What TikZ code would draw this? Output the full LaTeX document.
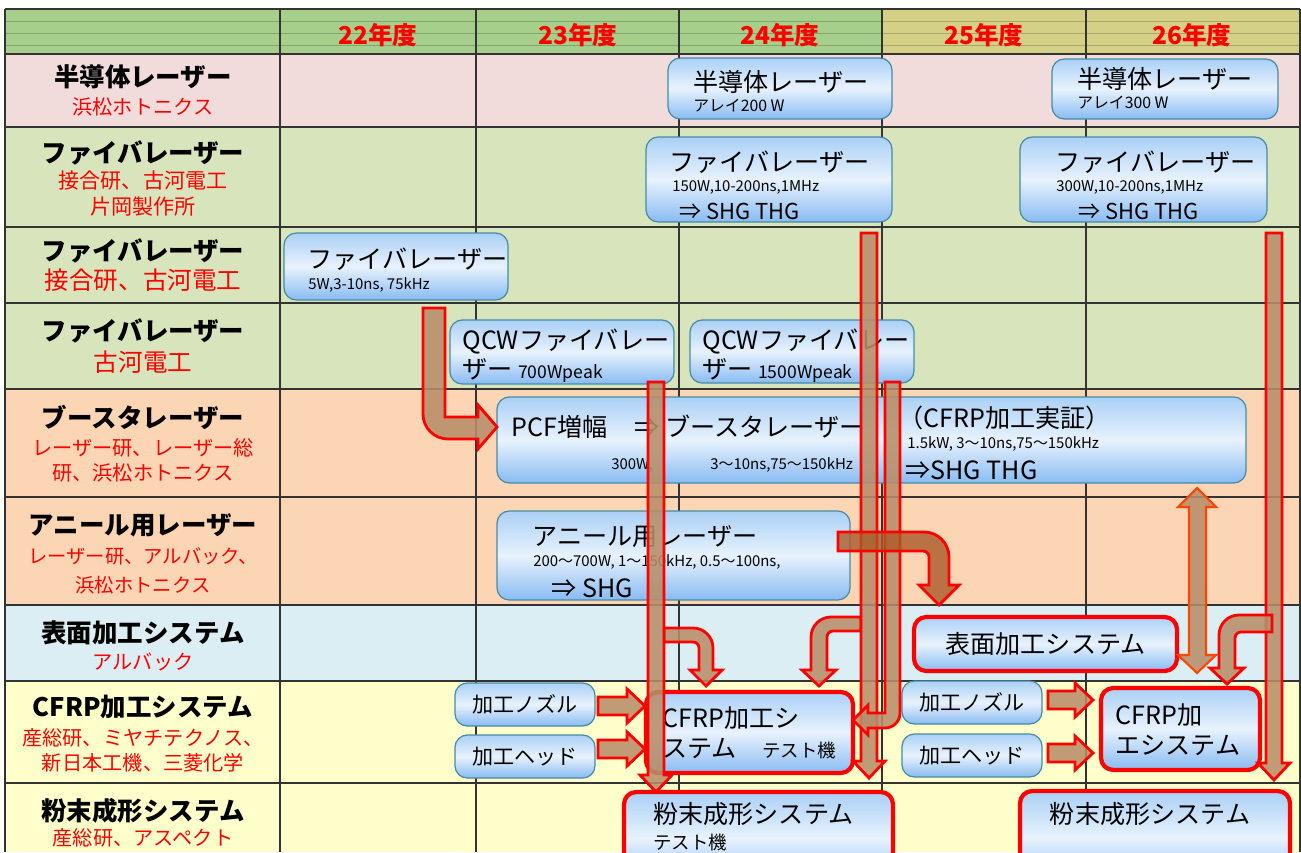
\documentclass[tikz,border=0pt]{standalone}
\usepackage{fontspec}
\setmainfont{Noto Sans CJK JP}
\usetikzlibrary{positioning}

\definecolor{hdgreen}{RGB}{166,207,140}
\definecolor{hdkhaki}{RGB}{212,209,135}
\definecolor{rowpink}{RGB}{242,220,219}
\definecolor{rowgreen}{RGB}{216,228,188}
\definecolor{rowpeach}{RGB}{252,213,180}
\definecolor{rowblue}{RGB}{218,238,243}
\definecolor{rowyellow}{RGB}{255,255,204}
\definecolor{boxtop}{RGB}{170,208,246}
\definecolor{boxmid}{RGB}{232,242,253}
\definecolor{boxbot}{RGB}{136,187,242}
\definecolor{boxline}{RGB}{70,140,165}
\definecolor{arrowfill}{RGB}{184,142,105}
\definecolor{arrowdark}{RGB}{170,90,40}
\definecolor{orangered}{RGB}{255,69,0}

% box from (x1,y1) to (x2,y2) in pixels
\newcommand{\roadbox}[6]{%
  \node[#1, minimum width={(#5-#3)*0.02cm}, minimum height={(#6-#4)*0.02cm}]
    (#2) at ({(#3+#5)/2},{(#4+#6)/2}) {};}
% block arrows: x, top, tip / start, y, tip
\newcommand{\downblk}[3]{%
  \filldraw[blk] ({#1-8},#2) -- ({#1+8},#2) -- ({#1+8},{#3-17}) -- ({#1+16},{#3-17})
    -- (#1,#3) -- ({#1-16},{#3-17}) -- ({#1-8},{#3-17}) -- cycle;}
\newcommand{\rightblk}[3]{%
  \filldraw[blk] (#1,{#2-9}) -- ({#3-18},{#2-9}) -- ({#3-18},{#2-17}) -- (#3,#2)
    -- ({#3-18},{#2+17}) -- ({#3-18},{#2+9}) -- (#1,{#2+9}) -- cycle;}

\begin{document}
\begin{tikzpicture}[
    x=0.02cm,
    y=-0.02cm,
    cell/.style={draw=black!80, line width=0.65pt},
    year/.style={text=red, inner sep=0pt, font=\fontsize{14}{16}\selectfont\bfseries},
    rowtitle/.style={inner sep=0pt, font=\fontsize{14.5}{17}\selectfont\bfseries},
    rowsub/.style={text=red, inner sep=0pt, align=center, font=\fontsize{11.5}{14.2}\selectfont},
    rowsubbig/.style={rowsub, font=\fontsize{14}{16}\selectfont},
    bluebox/.style={draw=boxline, line width=0.7pt, rounded corners=7pt, inner sep=0pt,
        top color=boxtop, bottom color=boxbot, middle color=boxmid},
    redbox/.style={bluebox, draw=red, line width=2.4pt},
    boxtitle/.style={anchor=west, inner sep=0pt, font=\fontsize{14.3}{17}\selectfont},
    boxsub/.style={anchor=west, inner sep=0pt, font=\fontsize{8.5}{10}\selectfont},
    boxmed/.style={anchor=west, inner sep=0pt, font=\fontsize{12.5}{14}\selectfont},
    boxlarge/.style={anchor=west, inner sep=0pt, font=\fontsize{14.3}{16}\selectfont},
    blk/.style={fill=arrowfill, fill opacity=0.88, draw=red, line width=1.6pt},
    blkdark/.style={blk, fill=arrowdark, fill opacity=0.8},
    blkboth/.style={blk, draw=orangered, line width=1.2pt}
  ]
  \useasboundingbox (0,0) rectangle (1301,852);
  \clip (0,0) rectangle (1301,852);

  % table background
  \fill[hdgreen] (5,9) rectangle (882,54);
  \fill[hdkhaki] (882,9) rectangle (1300,54);
  \foreach \y in {21,33,45} {
    \draw[hdgreen!60!black, line width=0.3pt, opacity=0.5] (5,\y) -- (882,\y);
    \draw[hdkhaki!60!black, line width=0.3pt, opacity=0.5] (882,\y) -- (1300,\y);
  }
  \foreach \a/\b/\c in {54/127/rowpink, 127/389/rowgreen, 389/605/rowpeach,
                        605/681/rowblue, 681/852/rowyellow}
    \fill[\c] (5,\a) rectangle (1300,\b);
  \foreach \y in {9,54,127,227,303,389,497,605,681,783}
    \draw[cell] (5,\y) -- (1300,\y);
  \foreach \x in {5,280,476,679,882,1086,1300}
    \draw[cell] (\x,9) -- (\x,852);

  % years
  \foreach \x/\yr [count=\i] in {378/22,578/23,780/24,984/25,1192/26}
    \node[year] (yr\i) at (\x,35) {\yr 年度};

  % row labels
  \node[rowtitle] (lab1) at (143,77) {半導体レーザー};
  \node[rowsub] (sub1) at (143,107) {浜松ホトニクス};
  \node[rowtitle] (lab2) at (143,153) {ファイバレーザー};
  \node[rowsub, font=\fontsize{12}{14.8}\selectfont] (sub2) at (143,194) {接合研、古河電工\\片岡製作所};
  \node[rowtitle] (lab3) at (143,251) {ファイバレーザー};
  \node[rowsubbig] (sub3) at (143,280) {接合研、古河電工};
  \node[rowtitle] (lab4) at (143,331) {ファイバレーザー};
  \node[rowsubbig] (sub4) at (143,362) {古河電工};
  \node[rowtitle] (lab5) at (143,417) {ブースタレーザー};
  \node[rowsub] (sub5) at (143,460) {レーザー研、レーザー総\\研、浜松ホトニクス};
  \node[rowtitle] (lab6) at (143,525) {アニール用レーザー};
  \node[rowsub, font=\fontsize{11}{16.5}\selectfont] (sub6) at (143,571) {レーザー研、アルバック、\\浜松ホトニクス};
  \node[rowtitle] (lab7) at (143,633) {表面加工システム};
  \node[rowsub] (sub7) at (143,662) {アルバック};
  \node[rowtitle] (lab8) at (143,707) {CFRP加工システム};
  \node[rowsub] (sub8) at (143,750) {産総研、ミヤチテクノス、\\新日本工機、三菱化学};
  \node[rowtitle] (lab9) at (143,811) {粉末成形システム};
  \node[rowsub] (sub9) at (143,838) {産総研、アスペクト};

  % laser boxes
  \roadbox{bluebox}{semi24}{668}{58}{892}{119}
  \node[boxtitle] (semi24t) at (693,82) {半導体レーザー};
  \node[boxsub, font=\fontsize{9}{10}\selectfont] (semi24s) at (693,106) {アレイ200 W};
  \roadbox{bluebox}{semi26}{1052}{59}{1278}{119}
  \node[boxtitle] (semi26t) at (1077,79) {半導体レーザー};
  \node[boxsub, font=\fontsize{9}{10}\selectfont] (semi26s) at (1077,103) {アレイ300 W};

  \roadbox{bluebox}{fib24}{646}{137}{892}{222}
  \node[boxtitle] (fib24t) at (669,162) {ファイバレーザー};
  \node[boxsub] (fib24s) at (672,187) {150W,10-200ns,1MHz};
  \node[boxmed] (fib24h) at (679,211) {⇒ SHG THG};
  \roadbox{bluebox}{fib26}{1020}{137}{1267}{222}
  \node[boxtitle] (fib26t) at (1055,162) {ファイバレーザー};
  \node[boxsub] (fib26s) at (1056,187) {300W,10-200ns,1MHz};
  \node[boxmed] (fib26h) at (1078,211) {⇒ SHG THG};

  \roadbox{bluebox}{fib22}{284}{233}{508}{300}
  \node[boxtitle] (fib22t) at (307,259) {ファイバレーザー};
  \node[boxsub] (fib22s) at (308,285) {5W,3-10ns, 75kHz};

  \roadbox{bluebox}{qcw23}{450}{320}{674}{384}
  \node[boxtitle] (qcw23t) at (462,342) {QCWファイバレー};
  \node[boxtitle] (qcw23s) at (462,371) {ザー {\fontsize{10}{12}\selectfont 700Wpeak}};
  \roadbox{bluebox}{qcw24}{690}{320}{914}{383}
  \node[boxtitle] (qcw24t) at (702,342) {QCWファイバレー};
  \node[boxtitle] (qcw24s) at (702,371) {ザー {\fontsize{10}{12}\selectfont 1500Wpeak}};

  \roadbox{bluebox}{boost}{497}{397}{1246}{483}
  \node[boxtitle] (boostt) at (511,427) {PCF増幅};
  \node[boxtitle] (boostr) at (634,427) {⇒ ブースタレーザー};
  \node[boxsub] (boosts) at (611,465) {300W,};
  \node[boxsub] (boostp) at (710,465) {3〜10ns,75〜150kHz};
  \node[boxlarge] (cfrpt) at (898,418) {（CFRP加工実証）};
  \node[boxsub] (cfrps) at (907,444) {1.5kW, 3〜10ns,75〜150kHz};
  \node[boxlarge] (cfrph) at (905,470) {⇒SHG THG};

  \roadbox{bluebox}{anneal}{497}{511}{850}{600}
  \node[boxtitle] (annealt) at (532,537) {アニール用レーザー};
  \node[boxsub] (anneals) at (533,562) {200〜700W, 1〜150kHz, 0.5〜100ns,};
  \node[boxlarge] (annealh) at (551,588) {⇒ SHG};

  % parts
  \foreach \nm/\xa/\ya/\txt in {noz23/455/683/加工ノズル, head23/455/735/加工ヘッド,
                               noz25/902/681/加工ノズル, head25/902/734/加工ヘッド} {
    \roadbox{bluebox}{\nm}{\xa}{\ya}{\xa+140}{\ya+43}
    \node[font=\fontsize{12}{14}\selectfont, inner sep=0pt] (\nm t) at (\nm) {\txt};
  }

  % systems
  \roadbox{redbox}{surf}{914}{617}{1177}{671}
  \node[boxtitle, anchor=center] (surft) at (surf) {表面加工システム};
  \roadbox{redbox}{cfrp24}{646}{692}{853}{773}
  \node[boxtitle] (cfrp24t) at (662,718) {CFRP加工シ};
  \node[boxtitle] (cfrp24s) at (662,749) {ステム\quad{\fontsize{10.5}{12}\selectfont テスト機}};
  \roadbox{redbox}{cfrp26}{1101}{688}{1260}{770}
  \node[boxtitle] (cfrp26t) at (1115,715) {CFRP加};
  \node[boxtitle] (cfrp26s) at (1115,745) {エシステム};
  \roadbox{redbox}{pow24}{624}{792}{893}{885}
  \node[boxtitle] (pow24t) at (653,814) {粉末成形システム};
  \node[boxsub, font=\fontsize{10.5}{12}\selectfont] (pow24s) at (653,842) {テスト機};
  \roadbox{redbox}{pow26}{1020}{791}{1290}{885}
  \node[boxtitle, anchor=center] (pow26t) at (1150,814) {粉末成形システム};

  % arrows
  \filldraw[blk] (423,308) -- (445,308) -- (445,417) -- (478,417) -- (478,405) -- (497,427)
    -- (478,449) -- (478,439) -- (448,439) arc[start angle=90, end angle=180, radius=25] -- cycle;

  \filldraw[blk] (664,628) -- (693,628) arc[start angle=-90, end angle=0, radius=20]
    -- (713,670) -- (722,670) -- (706,686) -- (690,670) -- (699,670) -- (699,648)
    arc[start angle=0, end angle=-90, radius=6] -- (664,642) -- cycle;
  \downblk{656}{382}{792}

  \filldraw[blk] (861,617) -- (831,617) arc[start angle=-90, end angle=-180, radius=20]
    -- (811,670) -- (802,670) -- (819,686) -- (836,670) -- (827,670) -- (827,637)
    arc[start angle=180, end angle=270, radius=6] -- (861,631) -- cycle;
  \downblk{869}{233}{778}

  \filldraw[blk] (885,382) -- (900,382) -- (900,713) arc[start angle=0, end angle=90, radius=15]
    -- (868,728) -- (868,735) -- (853,720) -- (868,705) -- (868,713) -- (885,713) -- cycle;

  \filldraw[blkdark] (838,532) -- (924,532) arc[start angle=-90, end angle=0, radius=25]
    -- (949,585) -- (959,585) -- (939,605) -- (919,585) -- (929,585) -- (929,557)
    arc[start angle=0, end angle=-90, radius=6] -- (838,551) -- cycle;

  \filldraw[blkboth] (1197,488) -- (1216,507) -- (1206,507) -- (1206,655) -- (1216,655)
    -- (1197,673) -- (1178,655) -- (1189,655) -- (1189,507) -- (1178,507) -- cycle;

  \downblk{1274}{233}{780}
  \filldraw[blk] (1272,615) -- (1239,615) arc[start angle=-90, end angle=-180, radius=20]
    -- (1219,668) -- (1210,668) -- (1227,684) -- (1244,668) -- (1235,668) -- (1235,638)
    arc[start angle=180, end angle=270, radius=6] -- (1272,632) -- cycle;

  \rightblk{598}{706}{645}
  \rightblk{598}{749}{645}
  \rightblk{1048}{700}{1093}
  \rightblk{1048}{753}{1093}
\end{tikzpicture}
\end{document}
